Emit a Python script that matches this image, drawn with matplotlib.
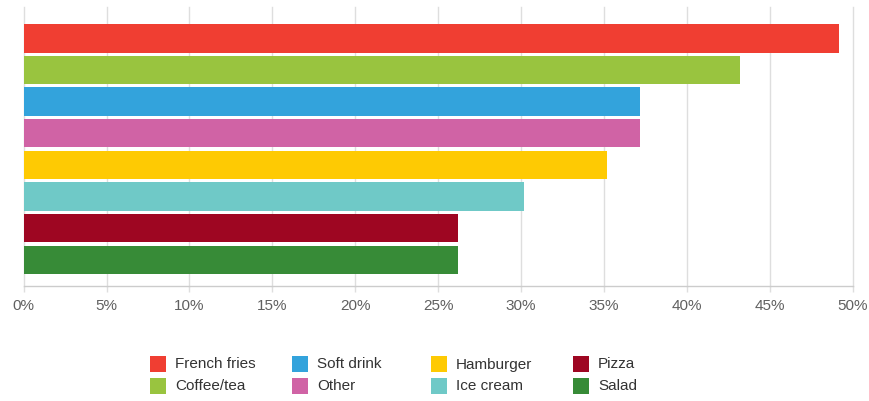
import matplotlib
matplotlib.use("Agg")
import matplotlib.pyplot as plt
from matplotlib.patches import Rectangle
from matplotlib.ticker import FuncFormatter

plt.rcParams['font.family'] = ['Liberation Sans', 'DejaVu Sans']

# Share of respondents choosing each item (%)
items = ["French fries", "Coffee/tea", "Soft drink", "Other",
         "Hamburger", "Ice cream", "Pizza", "Salad"]
shares = [49.2, 43.2, 37.2, 37.2, 35.2, 30.2, 26.2, 26.2]
colors = ["#F03E32", "#99C43F", "#33A3DC", "#D063A5",
          "#FECA03", "#6FC9C7", "#9E0622", "#378B37"]
x_ticks = [0, 5, 10, 15, 20, 25, 30, 35, 40, 45, 50]

W, H = 870, 401
fig = plt.figure(figsize=(W / 100, H / 100), dpi=100)
fig.patch.set_facecolor("white")

left_px, right_px, top_px, bottom_px = 23.7, 852.7, 7, 286
ax = fig.add_axes([left_px / W, 1 - bottom_px / H,
                   (right_px - left_px) / W, (bottom_px - top_px) / H])

for i, (name, val, col) in enumerate(zip(items, shares, colors)):
    ax.barh(i, val, height=0.9, color=col, label=name, zorder=2)

ax.set_xlim(0, 50)
ax.set_ylim(7.83, -0.99)
ax.set_xticks(x_ticks)
ax.xaxis.set_major_formatter(FuncFormatter(lambda v, p: f"{v:g}%"))
ax.set_yticks([])

grid_col = "#dedede"
ax.grid(axis="x", color=grid_col, linewidth=1.0, zorder=0)
for gl in ax.get_xgridlines():
    gl.set_clip_on(False)
ax.set_axisbelow(True)

for s in ("top", "right", "left"):
    ax.spines[s].set_visible(False)
ax.spines["bottom"].set_color("#cccccc")
ax.spines["bottom"].set_linewidth(1.0)

ax.tick_params(axis="x", length=4.3, width=1.0, color=grid_col,
               labelsize=11, labelcolor="#606060", pad=5)

# Legend laid out in four columns of two entries
col_square_x = [150, 292, 431, 573]
row_center_y = [364, 386]
sq = 16
for k, (name, col) in enumerate(zip(items, colors)):
    c, r = divmod(k, 2)
    x0 = col_square_x[c]
    yc = row_center_y[r]
    fig.add_artist(Rectangle((x0 / W, 1 - (yc + sq / 2) / H), sq / W, sq / H,
                             transform=fig.transFigure, facecolor=col,
                             edgecolor="none"))
    fig.text((x0 + sq + 9) / W, 1 - (yc + 0.5) / H, name,
             fontsize=11, color="#333333", va="center", ha="left")

fig.savefig("out.png", dpi=100, facecolor="white")
